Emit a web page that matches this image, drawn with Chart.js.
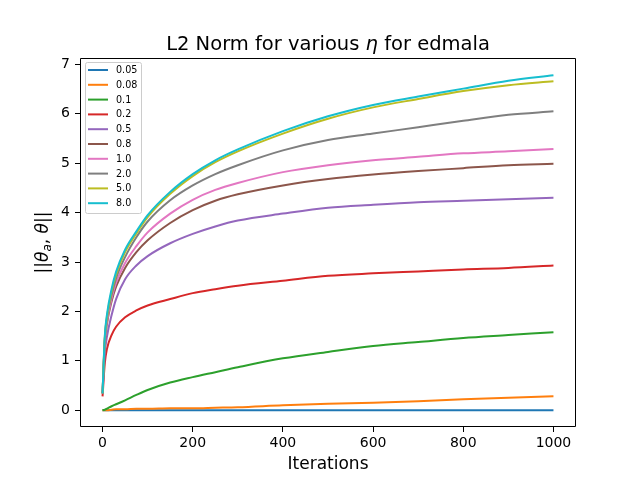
<!DOCTYPE html>
<html>
<head>
<meta charset="utf-8">
<script src="https://cdn.jsdelivr.net/npm/chart.js@4"></script>
<style>
  body { margin: 0; background: #fff; }
  canvas { display: block; }
</style>
</head>
<body>
<canvas id="myChart" width="640" height="480"></canvas>
<script>
const iterations = [0, 5, 10, 20, 30, 50, 75, 100, 150, 200, 250, 300, 400, 500, 600, 700, 800, 900, 1000];

const eta005 = [0, 0, 0, 0, 0, 0, 0, 0, 0, 0, 0, 0, 0, 0, 0, 0, 0, 0, 0];
const eta008 = [0, 0, 0, 0.01, 0.02, 0.02, 0.03, 0.03, 0.04, 0.04, 0.05, 0.06, 0.1, 0.13, 0.15, 0.18, 0.22, 0.25, 0.28];
const eta01 = [0, 0.01, 0.03, 0.08, 0.12, 0.2, 0.31, 0.41, 0.56, 0.67, 0.77, 0.87, 1.05, 1.18, 1.3, 1.38, 1.46, 1.52, 1.58];
const eta02 = [0.28, 0.95, 1.25, 1.52, 1.69, 1.88, 2.02, 2.12, 2.25, 2.37, 2.45, 2.52, 2.62, 2.72, 2.77, 2.81, 2.85, 2.88, 2.93];
const eta05 = [0.34, 1.15, 1.5, 1.92, 2.25, 2.65, 2.93, 3.12, 3.38, 3.57, 3.72, 3.84, 3.98, 4.1, 4.16, 4.21, 4.24, 4.27, 4.3];
const eta08 = [0.34, 1.37, 1.76, 2.2, 2.5, 2.88, 3.2, 3.44, 3.79, 4.05, 4.24, 4.37, 4.55, 4.68, 4.77, 4.84, 4.9, 4.96, 4.99];
const eta1 = [0.34, 1.4, 1.8, 2.26, 2.58, 2.98, 3.32, 3.6, 3.98, 4.26, 4.46, 4.6, 4.82, 4.96, 5.06, 5.13, 5.2, 5.24, 5.29];
const eta2 = [0.34, 1.44, 1.86, 2.33, 2.67, 3.1, 3.5, 3.82, 4.25, 4.55, 4.78, 4.96, 5.26, 5.47, 5.6, 5.73, 5.86, 5.98, 6.05];
const eta5 = [0.34, 1.47, 1.9, 2.4, 2.75, 3.2, 3.58, 3.91, 4.38, 4.74, 5.02, 5.24, 5.6, 5.9, 6.13, 6.3, 6.46, 6.58, 6.66];
const eta8 = [0.34, 1.5, 1.95, 2.45, 2.8, 3.25, 3.62, 3.95, 4.42, 4.78, 5.06, 5.28, 5.65, 5.95, 6.18, 6.35, 6.51, 6.67, 6.78];

const etaLabels = ["0.05", "0.08", "0.1", "0.2", "0.5", "0.8", "1.0", "2.0", "5.0", "8.0"];
const series = [eta005, eta008, eta01, eta02, eta05, eta08, eta1, eta2, eta5, eta8];
const colors = ["#1f77b4", "#ff7f0e", "#2ca02c", "#d62728", "#9467bd",
                "#8c564b", "#e377c2", "#7f7f7f", "#bcbd22", "#17becf"];

const xTicks = [0, 200, 400, 600, 800, 1000];
const yTicks = [0, 1, 2, 3, 4, 5, 6, 7];

const FONT = "'DejaVu Sans', sans-serif";

// frame, titles and matplotlib-style legend
const decor = {
  id: "decor",
  afterDraw(chart) {
    const ctx = chart.ctx;
    const a = chart.chartArea;
    ctx.save();
    ctx.strokeStyle = "#000";
    ctx.lineWidth = 1;
    const L = Math.round(a.left) + 0.5, R = Math.round(a.right) - 0.5;
    const T = Math.round(a.top) + 0.5, B = Math.round(a.bottom) - 0.5;
    ctx.beginPath();
    ctx.moveTo(L, T); ctx.lineTo(R, T); ctx.lineTo(R, B); ctx.lineTo(L, B); ctx.closePath();
    ctx.stroke();

    ctx.fillStyle = "#000";
    ctx.textBaseline = "alphabetic";

    // title with italic eta
    const cx = (a.left + a.right) / 2;
    const p1 = "L2 Norm for various ", p2 = "η", p3 = " for edmala";
    const tf = "19.5px " + FONT, tfi = "italic 19.5px " + FONT;
    ctx.font = tf;
    const w1 = ctx.measureText(p1).width, w3 = ctx.measureText(p3).width;
    ctx.font = tfi;
    const w2 = ctx.measureText(p2).width;
    const tx = cx - (w1 + w2 + w3) / 2;
    ctx.textAlign = "left";
    ctx.font = tf;
    ctx.fillText(p1, tx, 50);
    ctx.font = tfi;
    ctx.fillText(p2, tx + w1, 50);
    ctx.font = tf;
    ctx.fillText(p3, tx + w1 + w2, 50);

    // x label
    ctx.font = "17px " + FONT;
    ctx.textAlign = "center";
    ctx.fillText("Iterations", cx, 469);

    // y label ||θa, θ||
    ctx.save();
    ctx.translate(48, (a.top + a.bottom) / 2);
    ctx.rotate(-Math.PI / 2);
    const parts = [
      ["||", "17px " + FONT, 0],
      ["θ", "italic 17px " + FONT, 0],
      ["a", "italic 12px " + FONT, 3],
      [", ", "17px " + FONT, 0],
      ["θ", "italic 17px " + FONT, 0],
      ["||", "17px " + FONT, 0]
    ];
    let total = 0;
    parts.forEach(p => { ctx.font = p[1]; total += ctx.measureText(p[0]).width; });
    let px = -total / 2;
    ctx.textAlign = "left";
    parts.forEach(p => {
      ctx.font = p[1];
      ctx.fillText(p[0], px, p[2]);
      px += ctx.measureText(p[0]).width;
    });
    ctx.restore();

    // legend
    const lx = 85, ly = 62, lw = 56, lh = 151;
    ctx.fillStyle = "rgba(255,255,255,0.8)";
    ctx.strokeStyle = "#cccccc";
    ctx.beginPath();
    ctx.roundRect(lx + 0.5, ly + 0.5, lw, lh, 2);
    ctx.fill();
    ctx.stroke();
    ctx.font = "9.6px " + FONT;
    ctx.textBaseline = "middle";
    ctx.textAlign = "left";
    chart.data.datasets.forEach((ds, i) => {
      const y = 70 + i * 14.8;
      ctx.strokeStyle = ds.borderColor;
      ctx.lineWidth = 2;
      ctx.beginPath();
      ctx.moveTo(88, y);
      ctx.lineTo(108, y);
      ctx.stroke();
      ctx.fillStyle = "#000";
      ctx.fillText(ds.label, 116, y + 0.5);
    });
    ctx.restore();
  }
};

const ctx = document.getElementById("myChart").getContext("2d");

new Chart(ctx, {
  type: "line",
  data: {
    datasets: series.map((vals, i) => ({
      label: etaLabels[i],
      data: iterations.map((x, j) => ({ x: x, y: vals[j] })),
      borderColor: colors[i],
      backgroundColor: colors[i],
      borderWidth: 2,
      pointRadius: 0,
      fill: false,
      cubicInterpolationMode: "monotone",
      order: series.length - i
    }))
  },
  options: {
    responsive: false,
    animation: false,
    devicePixelRatio: 1,
    layout: { padding: { top: 58, right: 64, left: 0, bottom: 0 } },
    plugins: {
      legend: { display: false },
      title: { display: false },
      tooltip: { enabled: false }
    },
    scales: {
      x: {
        type: "linear",
        min: -50,
        max: 1050,
        afterFit: s => { s.height = 53; },
        afterBuildTicks: s => { s.ticks = xTicks.map(v => ({ value: v })); },
        grid: { drawOnChartArea: false, drawTicks: true, tickLength: 5, color: "#000", tickColor: "#000" },
        border: { display: false },
        ticks: { color: "#000", font: { family: FONT, size: 14 }, padding: 3, maxRotation: 0,
                 callback: v => String(v) }
      },
      y: {
        type: "linear",
        min: -0.34,
        max: 7.13,
        afterFit: s => { s.width = 80; },
        afterBuildTicks: s => { s.ticks = yTicks.map(v => ({ value: v })); },
        grid: { drawOnChartArea: false, drawTicks: true, tickLength: 5, color: "#000", tickColor: "#000" },
        border: { display: false },
        ticks: { color: "#000", font: { family: FONT, size: 14 }, padding: 5,
                 callback: v => String(v) }
      }
    }
  },
  plugins: [decor]
});
</script>
</body>
</html>
